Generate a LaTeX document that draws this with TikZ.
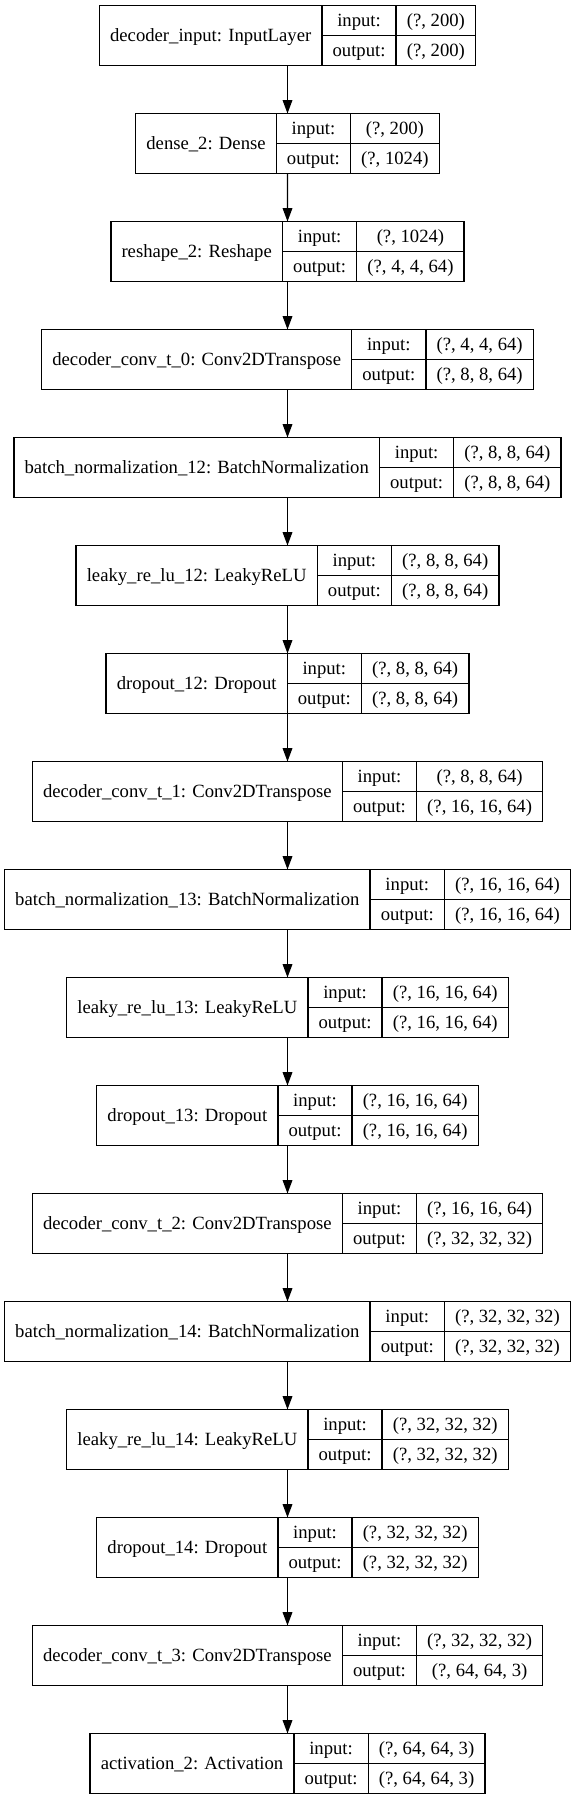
\documentclass[tikz,border=0pt]{standalone}
\usepackage{fontspec}
\setmainfont{Liberation Serif}
\usetikzlibrary{arrows.meta,fit}
\newcommand\lfont{\fontsize{18.67pt}{22pt}\selectfont}
\newlength\wn \newlength\wio \newlength\wv \newlength\wtmp
\tikzset{
 cell/.style={draw=black, line width=1.33pt, inner xsep=0pt, inner ysep=0pt, outer sep=0pt, font=\lfont, text height=16pt, text depth=4pt},
 namecell/.style={cell, minimum height=60pt},
 rowcell/.style={cell, minimum height=30pt},
 recbox/.style={inner sep=0pt, outer sep=0pt},
 arr/.style={line width=1.33pt, -{Triangle[length=13.3pt,width=9.6pt]}}
}
% measure one layer (outside the picture) and store its texts and widths
\newcommand\meas[4]{%
 \expandafter\gdef\csname L#1name\endcsname{#2}%
 \expandafter\gdef\csname L#1in\endcsname{#3}%
 \expandafter\gdef\csname L#1out\endcsname{#4}%
 \settowidth\wn{\lfont #2}\addtolength\wn{21.33pt}%
 \settowidth\wio{\lfont output:}\addtolength\wio{21.33pt}%
 \settowidth\wv{\lfont #3}\settowidth\wtmp{\lfont #4}%
 \ifdim\wtmp>\wv \setlength\wv{\wtmp}\fi
 \addtolength\wv{21.33pt}%
 \expandafter\xdef\csname L#1wn\endcsname{\the\wn}%
 \expandafter\xdef\csname L#1wio\endcsname{\the\wio}%
 \expandafter\xdef\csname L#1wv\endcsname{\the\wv}%
}
\newcommand\lay[1]{%
 \pgfmathsetmacro\Lx{287.5-(\csname L#1wn\endcsname+\csname L#1wio\endcsname+\csname L#1wv\endcsname)/2}%
 \pgfmathsetmacro\Ty{-5.5-108*#1}%
 \node[namecell, minimum width=\csname L#1wn\endcsname, anchor=north west] (n#1) at (\Lx pt,\Ty pt) {\csname L#1name\endcsname};
 \node[rowcell, minimum width=\csname L#1wio\endcsname, anchor=north west] (n#1i) at (n#1.north east) {input:};
 \node[rowcell, minimum width=\csname L#1wio\endcsname, anchor=north west] (n#1o) at (n#1i.south west) {output:};
 \node[rowcell, minimum width=\csname L#1wv\endcsname, anchor=north west] (n#1vi) at (n#1i.north east) {\csname L#1in\endcsname};
 \node[rowcell, minimum width=\csname L#1wv\endcsname, anchor=north west] (n#1vo) at (n#1o.north east) {\csname L#1out\endcsname};
 \node[recbox, fit=(n#1)(n#1vo)] (n#1b) {};
}
\begin{document}
\meas{0}{decoder\_input: InputLayer}{(?, 200)}{(?, 200)}
\meas{1}{dense\_2: Dense}{(?, 200)}{(?, 1024)}
\meas{2}{reshape\_2: Reshape}{(?, 1024)}{(?, 4, 4, 64)}
\meas{3}{decoder\_conv\_t\_0: Conv2DTranspose}{(?, 4, 4, 64)}{(?, 8, 8, 64)}
\meas{4}{batch\_normalization\_12: BatchNormalization}{(?, 8, 8, 64)}{(?, 8, 8, 64)}
\meas{5}{leaky\_re\_lu\_12: LeakyReLU}{(?, 8, 8, 64)}{(?, 8, 8, 64)}
\meas{6}{dropout\_12: Dropout}{(?, 8, 8, 64)}{(?, 8, 8, 64)}
\meas{7}{decoder\_conv\_t\_1: Conv2DTranspose}{(?, 8, 8, 64)}{(?, 16, 16, 64)}
\meas{8}{batch\_normalization\_13: BatchNormalization}{(?, 16, 16, 64)}{(?, 16, 16, 64)}
\meas{9}{leaky\_re\_lu\_13: LeakyReLU}{(?, 16, 16, 64)}{(?, 16, 16, 64)}
\meas{10}{dropout\_13: Dropout}{(?, 16, 16, 64)}{(?, 16, 16, 64)}
\meas{11}{decoder\_conv\_t\_2: Conv2DTranspose}{(?, 16, 16, 64)}{(?, 32, 32, 32)}
\meas{12}{batch\_normalization\_14: BatchNormalization}{(?, 32, 32, 32)}{(?, 32, 32, 32)}
\meas{13}{leaky\_re\_lu\_14: LeakyReLU}{(?, 32, 32, 32)}{(?, 32, 32, 32)}
\meas{14}{dropout\_14: Dropout}{(?, 32, 32, 32)}{(?, 32, 32, 32)}
\meas{15}{decoder\_conv\_t\_3: Conv2DTranspose}{(?, 32, 32, 32)}{(?, 64, 64, 3)}
\meas{16}{activation\_2: Activation}{(?, 64, 64, 3)}{(?, 64, 64, 3)}
\begin{tikzpicture}
\useasboundingbox (0,0) rectangle (575pt,-1799pt);
\foreach \i in {0,...,16} {\lay{\i}}
\foreach \a [evaluate=\a as \b using int(\a+1)] in {0,...,15}
  \draw[arr] (n\a b.south) -- (n\b b.north);
\end{tikzpicture}
\end{document}
